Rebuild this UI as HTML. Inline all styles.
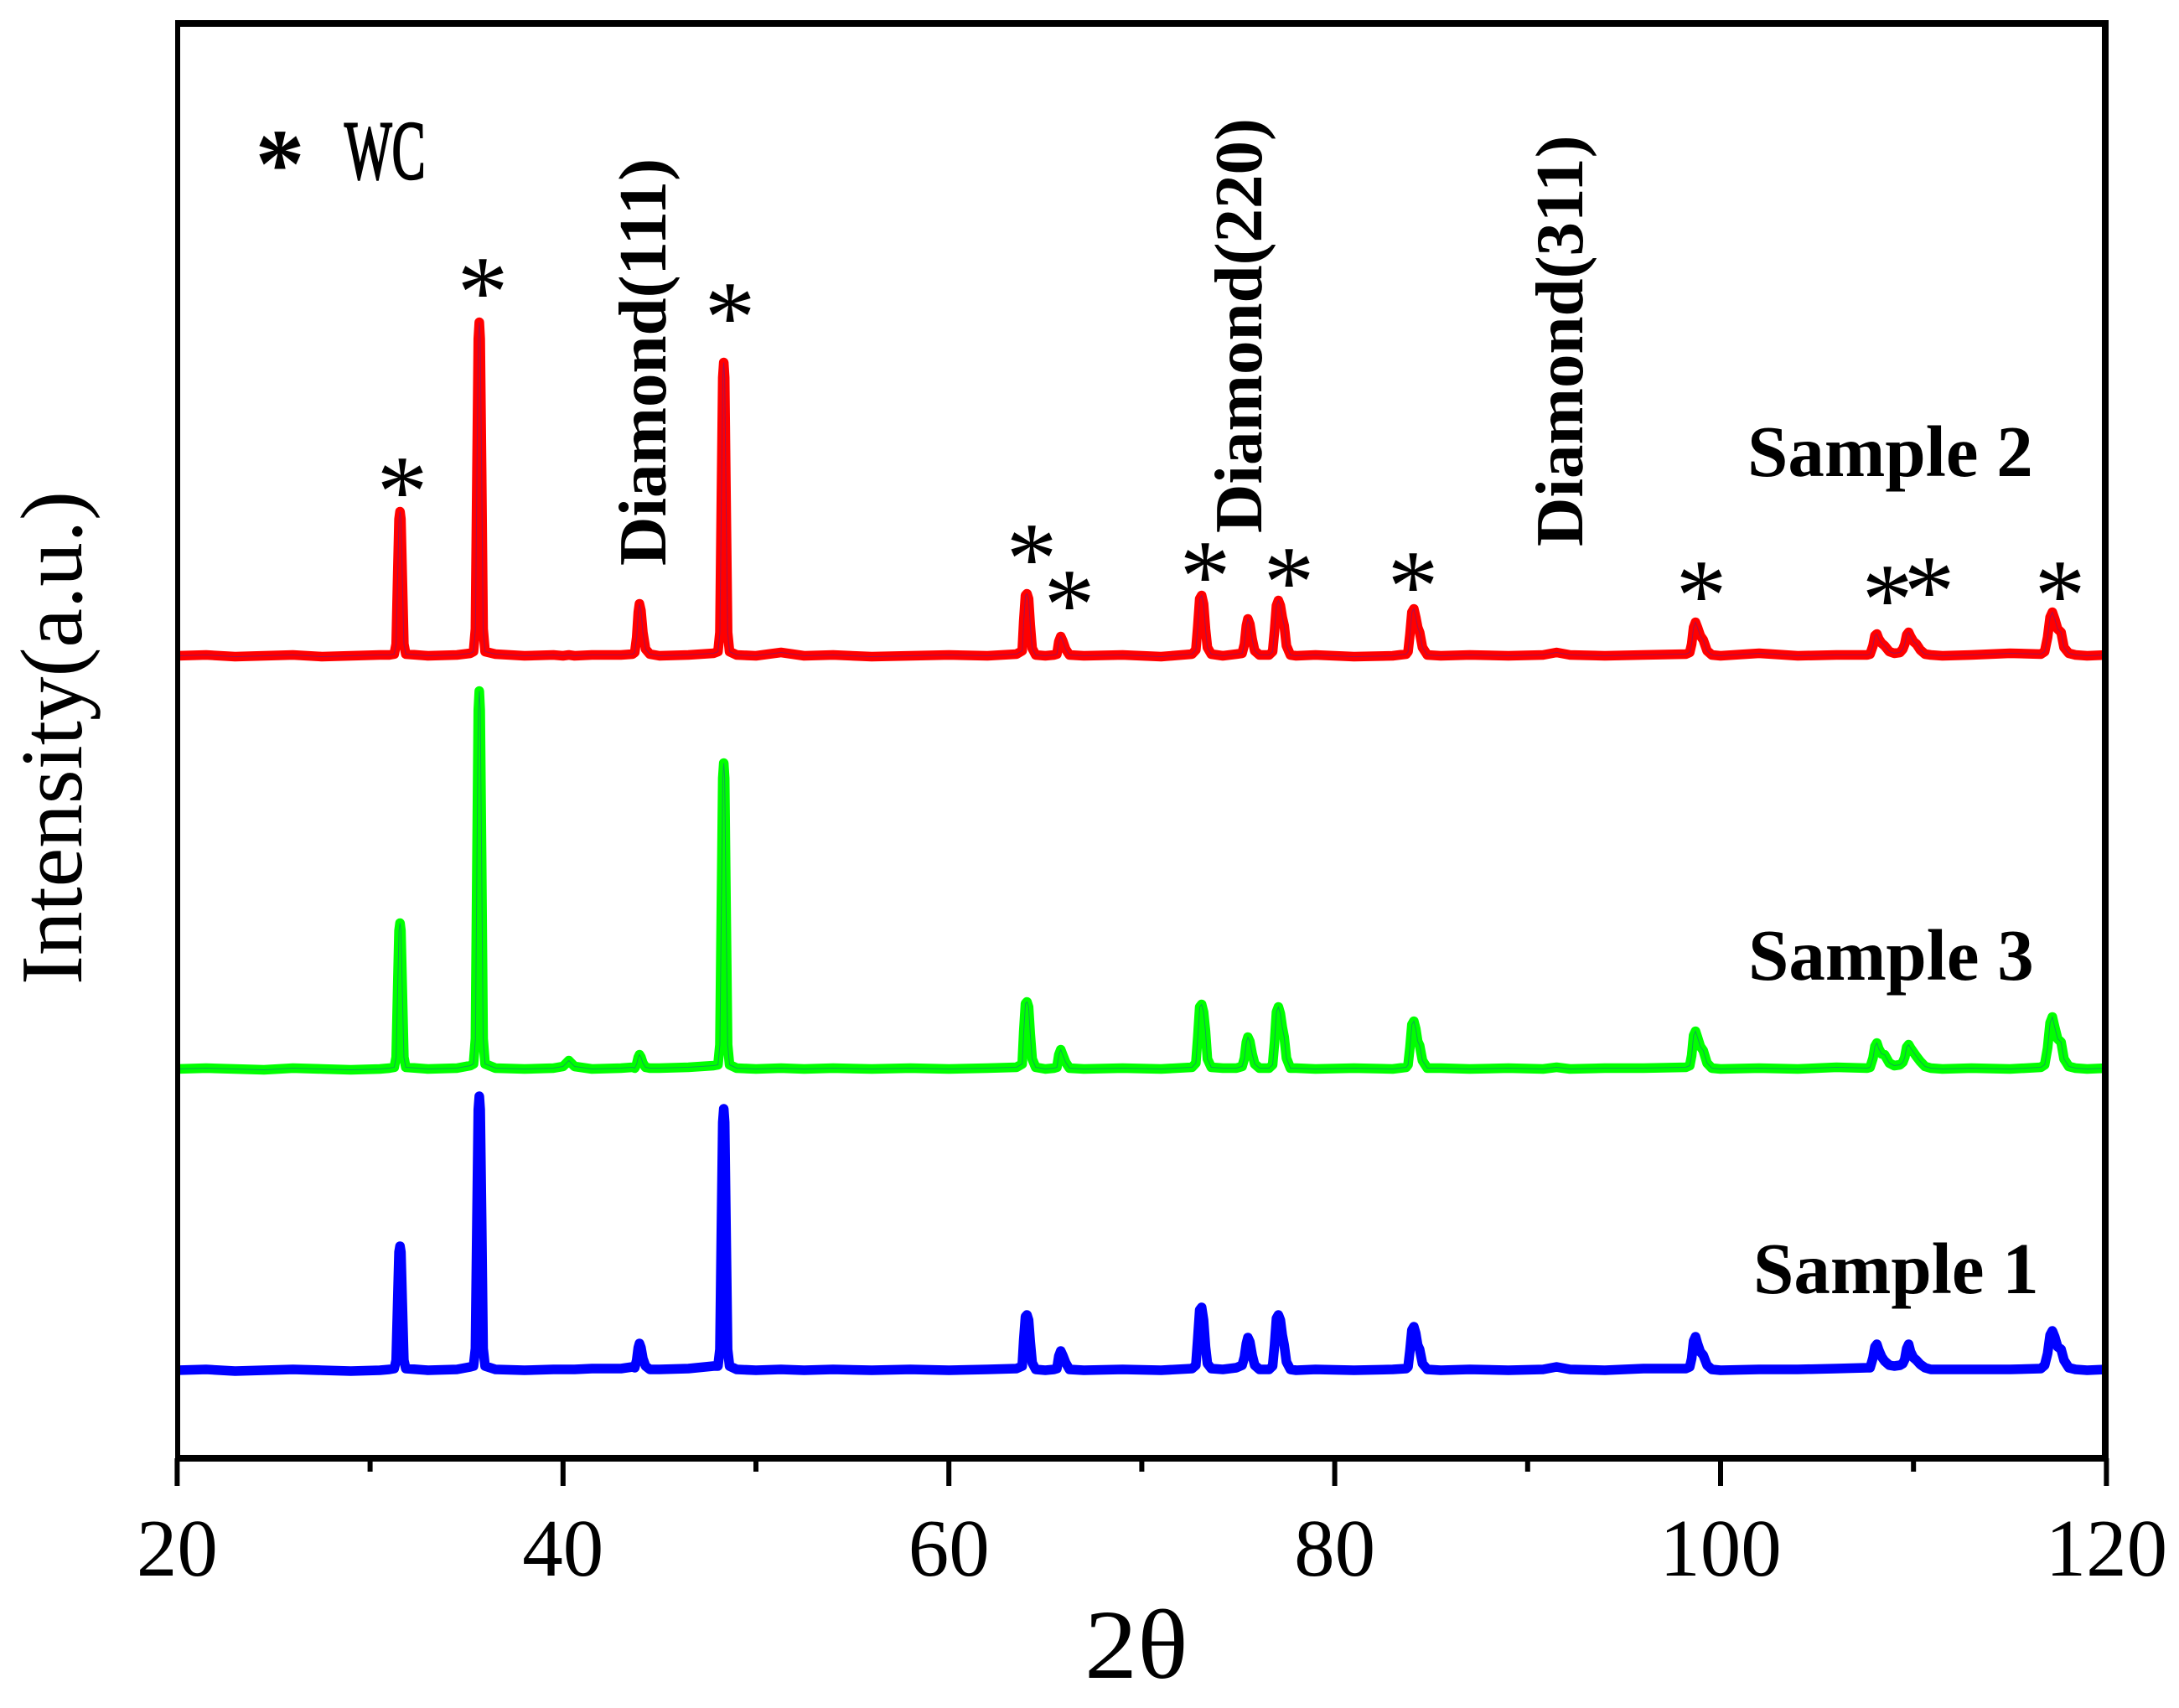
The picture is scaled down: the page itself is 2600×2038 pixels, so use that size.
<!DOCTYPE html>
<html lang="en">
<head>
<meta charset="utf-8">
<title>XRD patterns of samples 1-3</title>
<style>
html,body{margin:0;padding:0;background:#fff;}
svg{display:block;}
text{font-family:"Liberation Serif",serif;fill:#000;}
.b{font-weight:bold;}
.star{font-size:122px;text-anchor:middle;}
.peak-label{font-size:81px;font-weight:bold;}
.sample{font-size:87px;font-weight:bold;}
.tick-label{font-size:97px;text-anchor:middle;}
</style>
</head>
<body>
<svg id="chart" xmlns="http://www.w3.org/2000/svg" width="2600" height="2038" viewBox="0 0 2600 2038">
  <rect x="0" y="0" width="2600" height="2038" fill="#fff"/>
  <g id="series-layer"></g>
  <g id="axis-layer">
    <rect x="209" y="24" width="2307" height="8" fill="#000"/>
    <rect x="209" y="24" width="6" height="1720" fill="#000"/>
    <rect x="2508" y="24" width="8" height="1720" fill="#000"/>
    <rect x="209" y="1736" width="2307" height="8" fill="#000"/>
  </g>
  <text transform="translate(97,1175) rotate(-90)" font-size="105">Intensity(a.u.)</text>
  <text transform="translate(1294,2002) scale(1.07,1)" font-size="118">2θ</text>

  <text class="b" x="334" y="235" font-size="118" text-anchor="middle">*</text>
  <text transform="translate(411,213) scale(.6,1)" font-size="100" stroke="#000" stroke-width="2.5">WC</text>

  <text class="peak-label" transform="translate(794,675) rotate(-90)">Diamond(111)</text>
  <text class="peak-label" transform="translate(1505,636) rotate(-90)">Diamond(220)</text>
  <text class="peak-label" transform="translate(1888,652) rotate(-90)">Diamond(311)</text>

  <text class="sample" x="2085" y="568">Sample 2</text>
  <text class="sample" x="2086" y="1169">Sample 3</text>
  <text class="sample" x="2092" y="1543">Sample 1</text>

  <text class="star" x="480" y="627">*</text>
  <text class="star" x="576" y="389">*</text>
  <text class="star" x="871" y="419">*</text>
  <text class="star" x="1231" y="707">*</text>
  <text class="star" x="1276" y="762">*</text>
  <text class="star" x="1438" y="728">*</text>
  <text class="star" x="1538" y="735">*</text>
  <text class="star" x="1686" y="740">*</text>
  <text class="star" x="2030" y="751">*</text>
  <text class="star" x="2252" y="756">*</text>
  <text class="star" x="2302" y="746">*</text>
  <text class="star" x="2458" y="751">*</text>
</svg>
<script>
const majorTicks = [20, 40, 60, 80, 100, 120];
const minorTicks = [30, 50, 70, 90, 110];
const tickLabels = ['20', '40', '60', '80', '100', '120'];

const twoTheta = [
  20,21.5,23,24.5,26,27.5,29,30.5,31,
  31.25,31.35,31.43,31.5,31.55,31.6,31.67,31.75,31.85,
  33,34.5,35.2,
  35.36,35.46,35.54,35.61,35.66,35.71,35.78,35.86,35.96,
  36.5,38,39.5,40,40.3,40.6,41.5,43,43.6,
  43.72,43.82,43.9,43.96,44.04,44.14,44.28,44.5,
  45,46.5,47.8,
  48.03,48.13,48.21,48.28,48.33,48.38,48.45,48.53,48.63,
  49,50,51.3,52.5,54,56,58,60,62,63.5,
  63.8,63.88,63.97,64.05,64.13,64.22,64.32,64.5,
  65,65.45,
  65.6,65.7,65.8,65.9,66.05,66.25,
  67,69,71,72.6,
  72.8,72.9,73,73.1,73.2,73.3,73.4,73.6,
  74.2,74.9,
  75.2,75.32,75.42,75.5,75.6,75.72,75.85,76.1,
  76.6,
  76.78,76.88,76.98,77.08,77.18,77.28,77.38,77.5,77.7,
  78,79,81,83,83.7,
  83.8,83.9,84,84.1,84.2,84.3,84.4,84.55,84.8,
  85.5,87,89,90.8,91.5,92.2,94,96,98.2,
  98.4,98.5,98.6,98.7,98.8,98.95,99.1,99.3,99.55,
  100,102,104,106,107.6,
  107.75,107.9,108,108.1,108.2,108.35,108.5,108.75,109,109.3,
  109.45,109.55,109.65,109.75,109.85,110,110.15,110.35,110.6,110.9,
  111.5,113,115,116.6,
  116.8,116.95,117.08,117.2,117.32,117.47,117.65,117.8,118.05,118.4,
  119,120
];

const sample2Intensity = [
  0,1,-1,0,1,-1,0,1,1,
  2,14,95,163,172,163,95,14,2,
  0,1,3,
  5,32,219,378,398,378,219,32,5,
  2,0,1,0,1,0,1,1,2,
  4,22,52,62,54,28,8,2,
  0,1,3,
  5,28,192,332,350,332,192,28,5,
  1,0,4,0,1,-1,0,1,0,2,
  6,41,72,74,68,37,9,1,
  0,1,
  2,17,23,18,8,1,
  0,1,-1,2,
  7,35,68,72,62,32,10,2,
  0,2,
  3,14,36,44,38,20,6,1,
  1,
  5,30,60,66,60,46,36,12,1,
  0,1,-1,0,2,
  5,26,52,56,46,34,28,10,1,
  0,1,0,1,4,1,0,1,2,
  4,14,34,40,34,24,19,6,1,
  0,3,0,1,1,
  2,12,24,26,20,15,12,5,3,4,
  8,14,25,28,23,17,14,7,2,1,
  0,1,3,2,
  5,22,46,52,44,32,28,10,3,1,
  0,1
];

const sample3Intensity = [
  0,1,0,-1,1,0,-1,0,1,
  2,14,96,165,174,165,96,14,2,
  0,1,4,
  6,36,248,428,451,428,248,36,6,
  1,0,1,3,10,3,0,1,2,
  1,6,14,17,14,7,2,1,
  1,2,4,
  5,29,200,347,365,347,200,29,5,
  1,0,1,0,1,0,1,0,1,2,
  6,44,78,80,74,42,12,2,
  0,1,
  2,17,23,17,8,1,
  0,1,0,2,
  7,38,74,77,68,45,12,2,
  1,1,
  3,13,32,38,33,18,6,1,
  1,
  5,32,68,74,66,50,38,13,1,
  1,0,1,0,2,
  5,26,53,57,48,33,28,10,1,
  1,0,1,0,2,0,1,1,2,
  4,16,40,45,38,27,22,7,1,
  0,1,0,2,1,
  2,13,27,31,24,18,17,7,4,5,
  8,14,26,29,25,20,15,9,3,1,
  0,1,0,2,
  5,25,55,62,50,36,32,12,3,1,
  0,1
];

const sample1Intensity = [
  0,1,-1,0,1,0,-1,0,1,
  2,12,81,141,148,141,81,12,2,
  0,1,4,
  5,26,180,311,327,311,180,26,5,
  1,0,1,1,1,1,2,2,4,
  3,12,27,32,27,14,5,1,
  1,2,5,
  5,25,172,296,312,296,172,25,5,
  1,0,1,0,1,0,1,0,1,2,
  5,36,64,66,60,34,9,1,
  0,1,
  2,17,23,18,9,1,
  0,1,0,2,
  6,38,72,75,60,28,8,2,
  1,3,
  6,16,32,39,34,18,6,1,
  1,
  5,30,62,66,60,42,30,10,1,
  0,1,0,1,2,
  4,24,48,52,44,30,25,8,1,
  0,1,0,1,4,1,0,2,2,
  4,14,35,40,32,22,18,6,1,
  0,1,1,2,3,
  3,15,28,31,24,16,11,6,5,6,
  8,13,26,31,22,15,12,7,3,1,
  1,1,1,2,
  6,20,42,47,40,28,25,12,3,1,
  0,1
];

const sample1Offset = 105;
const sample3Offset = 464.5;
const sample2Offset = 957.5;

function xAxis(v) { return 211.4 + (v - 20) * 23.02; }
function yAxis(v) { return 1740 - v; }

const NS = 'http://www.w3.org/2000/svg';
const seriesLayer = document.getElementById('series-layer');
const axisLayer = document.getElementById('axis-layer');

function seriesPoints(values, offset) {
  return twoTheta.map(function (t, i) {
    return xAxis(t).toFixed(1) + ',' + yAxis(values[i] + offset).toFixed(1);
  }).join(' ');
}

function drawSeries(values, offset, color, name) {
  const line = document.createElementNS(NS, 'polyline');
  
  
  line.setAttribute('points', seriesPoints(values, offset));
  line.setAttribute('fill', 'none');
  line.setAttribute('stroke', color);
  line.setAttribute('stroke-width', '11.5');
  line.setAttribute('stroke-linejoin', 'round');
  seriesLayer.appendChild(line);
}

function drawCore(values, offset, name) {
  const core = document.createElementNS(NS, 'polyline');
  
  
  core.setAttribute('points', seriesPoints(values, offset));
  core.setAttribute('fill', 'none');
  core.setAttribute('stroke', '#2222cc');
  core.setAttribute('stroke-width', '1');
  core.setAttribute('stroke-opacity', '0.4');
  seriesLayer.appendChild(core);
}

drawSeries(sample2Intensity, sample2Offset, '#ff0000', 'series-sample-2');
drawCore(sample2Intensity, sample2Offset, 'series-sample-2-core');
drawSeries(sample3Intensity, sample3Offset, '#00ff00', 'series-sample-3');
drawCore(sample3Intensity, sample3Offset, 'series-sample-3-core');
drawSeries(sample1Intensity, sample1Offset, '#0000ff', 'series-sample-1');

majorTicks.forEach(function (v, i) {
  const tick = document.createElementNS(NS, 'rect');
  
  
  tick.setAttribute('x', xAxis(v) - 3);
  tick.setAttribute('y', 1740);
  tick.setAttribute('width', 6);
  tick.setAttribute('height', 33);
  axisLayer.appendChild(tick);
  const label = document.createElementNS(NS, 'text');
  
  
  label.setAttribute('class', 'tick-label');
  label.setAttribute('x', xAxis(v));
  label.setAttribute('y', 1880);
  label.textContent = tickLabels[i];
  axisLayer.appendChild(label);
});
minorTicks.forEach(function (v) {
  const tick = document.createElementNS(NS, 'rect');
  
  
  tick.setAttribute('x', xAxis(v) - 3);
  tick.setAttribute('y', 1740);
  tick.setAttribute('width', 6);
  tick.setAttribute('height', 16);
  axisLayer.appendChild(tick);
});
</script>
</body>
</html>
